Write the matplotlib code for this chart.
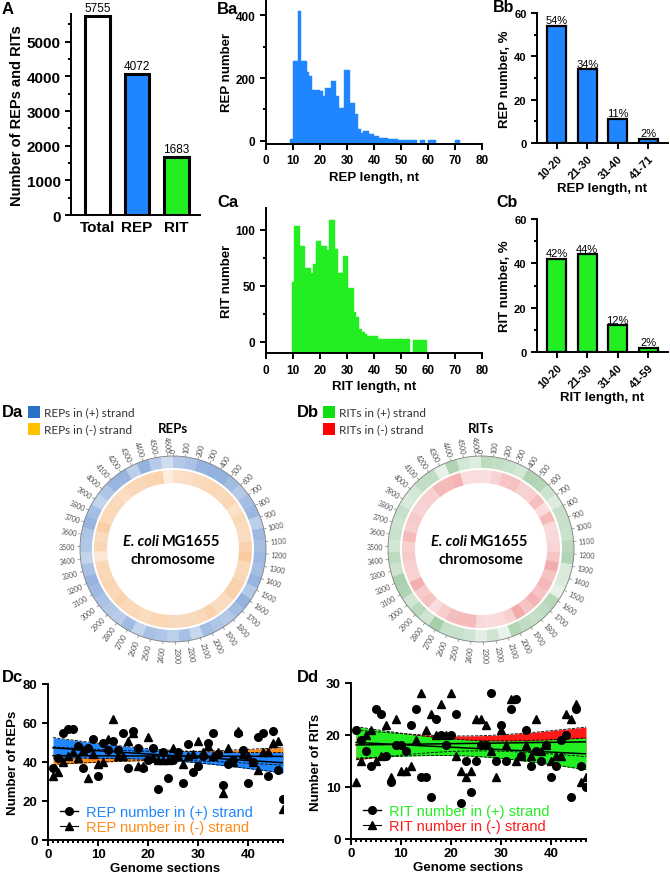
import numpy as np
import matplotlib.pyplot as plt
from matplotlib.patches import Wedge, Circle, Rectangle
from matplotlib.lines import Line2D
from matplotlib.ticker import MultipleLocator

plt.rcParams['font.family'] = ['Liberation Sans', 'DejaVu Sans']
plt.rcParams['font.weight'] = 'bold'
plt.rcParams['axes.labelweight'] = 'bold'

# ---- data ----
# A
total_cats = ['Total', 'REP', 'RIT']
total_vals = [5755, 4072, 1683]

# Ba: REP length histogram (bin left edge = length)
rep_lengths = list(range(9, 72))
rep_counts = [7, 253, 253, 413, 253, 253, 218, 207, 163, 163, 163, 160, 144, 167, 167,
              190, 190, 144, 104, 104, 225, 225, 120, 120, 84, 39, 25, 30, 30, 23, 23,
              15, 15, 10, 9, 8, 7, 6, 5, 5, 4, 4, 4, 3, 3, 3, 2, 0, 3, 3, 0, 3, 3, 3,
              0, 0, 0, 0, 0, 0, 0, 3, 3]

# Ca: RIT length histogram (bin centre = length)
rit_lengths = list(range(10, 60))
rit_counts = [54, 104, 104, 86, 86, 66, 66, 62, 70, 90, 90, 86, 86, 82, 109, 109, 83,
              62, 62, 77, 77, 48, 48, 27, 22, 12, 9, 7, 5, 5, 5, 5, 3, 3, 3, 3, 3, 3,
              3, 3, 3, 3, 3, 3, 0, 2, 2, 2, 2, 2]

# Bb / Cb
rep_groups = ['10-20', '21-30', '31-40', '41-71']
rep_pct = [54, 34, 11, 2]
rit_groups = ['10-20', '21-30', '31-40', '41-59']
rit_pct = [42, 44, 12, 2]

# Dc / Dd: counts per genome section
sections = list(range(1, 48))
rep_plus = [37, 42, 55, 57, 57, 48, 37, 47, 52, 33, 50, 46, 51, 46, 55, 37, 56, 47, 37,
            41, 47, 26, 45, 32, 41, 45, 29, 49, 35, 38, 43, 50, 55, 44, 28, 39, 41, 55,
            46, 29, 40, 53, 55, 33, 56, 36, 21]
rep_minus = [33, 35, 40, 43, 45, 42, 46, 32, 44, 39, 40, 52, 62, 43, 43, 51, 55, 38, 38,
             53, 42, 41, 41, 41, 47, 43, 39, 43, 44, 51, 45, 48, 43, 45, 24, 47, 40, 56,
             44, 43, 40, 36, 45, 45, 50, 51, 16]
rit_plus = [21, 19, 17, 14, 25, 24, 16, 11, 18, 18, 17, 22, 25, 12, 12, 8, 23, 20, 18,
            20, 24, 7, 15, 9, 15, 18, 18, 28, 15, 22, 15, 25, 27, 16, 21, 14, 17, 15,
            18, 12, 14, 19, 20, 8, 25, 14, 10]
rit_minus = [11, 15, 20, 21, 15, 16, 22, 12, 23, 13, 13, 14, 19, 28, 21, 24, 20, 26, 20,
             28, 16, 13, 12, 13, 23, 23, 22, 17, 12, 21, 18, 27, 15, 16, 18, 16, 23, 17,
             18, 15, 16, 16, 24, 23, 26, 11, 12]

genome_kb = 4641

BLUE = '#1f86ff'
GREEN = '#22ee22'
ORANGE = '#ff8c1a'
RED = '#ff1a1a'

W, H = 670, 879
fig = plt.figure(figsize=(W / 100, H / 100), dpi=100)


def add_ax(x0, y0, x1, y1):
    return fig.add_axes([x0 / W, 1 - y1 / H, (x1 - x0) / W, (y1 - y0) / H])


def ftext(x, y, s, **kw):
    return fig.text(x / W, 1 - y / H, s, **kw)


def style(ax, lw=1.4):
    for s in ['top', 'right']:
        ax.spines[s].set_visible(False)
    for s in ['left', 'bottom']:
        ax.spines[s].set_linewidth(lw)
    ax.tick_params(which='major', length=4, width=lw)
    ax.tick_params(which='minor', length=2.5, width=lw)


# ---- A ----
ax = add_ax(71, 15, 200, 216)
style(ax)
bars = ax.bar(range(3), total_vals, width=0.62, color=['white', BLUE, GREEN],
              edgecolor='black', linewidth=2.2)
ax.bar_label(bars, fontsize=8.5, fontweight='normal', padding=1)
ax.set_xlim(-0.675, 2.6)
ax.set_ylim(0, 5800)
ax.set_xticks(range(3), total_cats, fontsize=11)
ax.set_yticks(range(0, 6000, 1000))
ax.yaxis.set_minor_locator(MultipleLocator(500))
ax.tick_params(axis='y', labelsize=11)
ax.tick_params(axis='x', length=0)
ax.set_ylabel('Number of REPs and RITs', fontsize=10.5, labelpad=2)
ftext(2, 9, 'A', fontsize=12, va='center')

# ---- Ba ----
ax = add_ax(266, 0.5, 482, 145)
style(ax)
m = np.array(rep_counts) > 0
ax.bar(np.array(rep_lengths)[m], np.array(rep_counts)[m] + 10, bottom=-10, width=1,
       align='edge', color=BLUE, edgecolor=BLUE, linewidth=0.3)
ax.set_xlim(0, 80)
ax.set_ylim(-10, 450)
ax.set_xticks(range(0, 81, 10))
ax.set_yticks([0, 200, 400])
ax.yaxis.set_minor_locator(MultipleLocator(100))
ax.tick_params(labelsize=8.5)
ax.set_ylabel('REP number', fontsize=9.5, labelpad=2)
ax.set_xlabel('REP length, nt', fontsize=9.5, labelpad=3)
ftext(217, 9, 'Ba', fontsize=12, va='center')

# ---- Ca ----
ax = add_ax(266, 208.6, 482, 354.2)
style(ax)
m = np.array(rit_counts) > 0
ax.bar(np.array(rit_lengths)[m], np.array(rit_counts)[m] + 10, bottom=-10, width=1,
       color=GREEN, edgecolor=GREEN, linewidth=0.3)
ax.set_xlim(0, 80)
ax.set_ylim(-10, 120)
ax.set_xticks(range(0, 81, 10))
ax.set_yticks([0, 50, 100])
ax.yaxis.set_minor_locator(MultipleLocator(25))
ax.tick_params(labelsize=8.5)
ax.set_ylabel('RIT number', fontsize=9.5, labelpad=2)
ax.set_xlabel('RIT length, nt', fontsize=9.5, labelpad=3)
ftext(217, 203, 'Ca', fontsize=12, va='center')


# ---- Bb / Cb ----
def pct_panel(box, groups, pct, color, xlabel, letter, lpos):
    ax = add_ax(*box)
    style(ax)
    b = ax.bar(range(len(groups)), pct, width=0.62, color=color,
               edgecolor='black', linewidth=1.6)
    ax.bar_label(b, labels=[f'{v}%' for v in pct], fontsize=8, fontweight='normal',
                 padding=0.5)
    ax.set_xlim(-0.65, 3.65)
    ax.set_ylim(0, 60)
    ax.set_yticks([0, 20, 40, 60])
    ax.yaxis.set_minor_locator(MultipleLocator(10))
    ax.set_xticks(range(len(groups)))
    ax.set_xticklabels(groups, rotation=45, ha='right', rotation_mode='anchor')
    ax.tick_params(labelsize=8)
    ax.set_ylabel(xlabel.replace('length, nt', 'number, %'), fontsize=9.5, labelpad=2)
    ax.set_xlabel(xlabel, fontsize=9.5, labelpad=1)
    ftext(*lpos, letter, fontsize=11.5, va='center', ha='right')


pct_panel((537, 14, 668, 144), rep_groups, rep_pct, BLUE, 'REP length, nt', 'Bb',
          (514, 8))
pct_panel((537, 220, 668, 353), rit_groups, rit_pct, GREEN, 'RIT length, nt', 'Cb',
          (518, 203))


# ---- Da / Db circles ----
def genome_circle(cx, cy, plus, minus, c_plus, c_minus, a_lo, a_hi):
    R = 128
    ax = add_ax(cx - R, cy - R, cx + R, cy + R)
    ax.set_xlim(-R, R)
    ax.set_ylim(-R, R)
    ax.set_aspect('equal')
    ax.axis('off')
    step = 360 / len(plus)
    vals = np.array(plus + minus, float)
    lo, hi = vals.min(), vals.max()
    for i, (p, q) in enumerate(zip(plus, minus)):
        t2 = 90 - i * step
        t1 = t2 - step
        ap = a_lo + (a_hi - a_lo) * (p - lo) / (hi - lo)
        am = a_lo + (a_hi - a_lo) * (q - lo) / (hi - lo)
        ax.add_patch(Wedge((0, 0), 93, t1, t2, width=12, facecolor=c_plus, alpha=ap, lw=0))
        ax.add_patch(Wedge((0, 0), 79, t1, t2, width=13, facecolor=c_minus, alpha=am, lw=0))
    ax.add_patch(Circle((0, 0), 93, fill=False, ec='#808080', lw=0.6))
    for kb in range(0, genome_kb, 100):
        ang = kb / genome_kb * 360
        th = np.deg2rad(90 - ang)
        c, s = np.cos(th), np.sin(th)
        ax.plot([93 * c, 95.5 * c], [93 * s, 95.5 * s], color='#808080', lw=0.5)
        if ang <= 180:
            rot, ha = 90 - ang, 'left'
        else:
            rot, ha = 270 - ang, 'right'
        ax.text(97.5 * c, 97.5 * s, str(kb), rotation=rot, rotation_mode='anchor',
                ha=ha, va='center', fontsize=5, color='#505050', fontweight='normal',
                family=['Lato', 'DejaVu Sans'])
    return ax


genome_circle(173, 550, rep_plus, rep_minus, '#3d74c4', '#f5a860', 0.2, 0.6)
genome_circle(481, 550, rit_plus, rit_minus, '#4f9f55', '#e85a5a', 0.12, 0.5)

lato = ['Lato', 'DejaVu Sans']
for cx, name in [(173, 'REPs'), (481, 'RITs')]:
    ftext(cx, 429, name, fontsize=9.5, ha='center', va='center', family=lato)
    ftext(cx - 14, 542, 'E. coli', fontsize=10.5, ha='right', va='center', family=lato,
          style='italic')
    ftext(cx - 11, 542, 'MG1655', fontsize=10.5, ha='left', va='center', family=lato)
    ftext(cx, 560, 'chromosome', fontsize=10.5, ha='center', va='center', family=lato)

legend_rows = [(2, 'Da', [('#2a72c7', 'REPs in (+) strand'), ('#ffc000', 'REPs in (-) strand')]),
               (297, 'Db', [('#10e010', 'RITs in (+) strand'), ('#ff0000', 'RITs in (-) strand')])]
for x0, letter, items in legend_rows:
    ftext(x0, 413, letter, fontsize=12, va='center')
    for k, (col, lab) in enumerate(items):
        yc = 413 + 17 * k
        fig.add_artist(Rectangle(((x0 + 26) / W, 1 - (yc + 6) / H), 12 / W, 12 / H,
                                 transform=fig.transFigure, facecolor=col, lw=0))
        ftext(x0 + 42, yc, lab, fontsize=8.5, va='center', fontweight='normal',
              family=lato, color='#303030')


# ---- Dc / Dd ----
def fit_band(ax, x, y, color):
    x = np.asarray(x, float)
    y = np.asarray(y, float)
    b, a = np.polyfit(x, y, 1)
    n = len(x)
    s = np.sqrt(((y - (a + b * x)) ** 2).sum() / (n - 2))
    sxx = ((x - x.mean()) ** 2).sum()
    xs = np.linspace(x.min(), x.max(), 100)
    yh = a + b * xs
    half = 2.014 * s * np.sqrt(1 / n + (xs - x.mean()) ** 2 / sxx)
    ax.fill_between(xs, yh - half, yh + half, color=color, lw=0, zorder=1)
    return xs, yh, half


def trend_panel(box, plus, minus, c_plus, c_minus, ymax, ystep, ylabel, what,
                letter, lpos):
    ax = add_ax(*box)
    style(ax)
    bands = [fit_band(ax, sections, minus, c_minus), fit_band(ax, sections, plus, c_plus)]
    for xs, yh, half in bands:
        ax.plot(xs, yh - half, 'k--', lw=0.6, zorder=2)
        ax.plot(xs, yh + half, 'k--', lw=0.6, zorder=2)
        ax.plot(xs, yh, 'k-', lw=1.1, zorder=3)
    ax.plot(sections, plus, 'o', color='black', ms=5.5, zorder=4)
    ax.plot(sections, minus, '^', color='black', ms=5.5, zorder=4)
    ax.set_xlim(0, 47)
    ax.set_ylim(0, ymax)
    ax.set_xticks(range(0, 41, 10))
    ax.xaxis.set_minor_locator(MultipleLocator(1))
    ax.set_yticks(range(0, ymax + 1, ystep))
    ax.tick_params(labelsize=9.5)
    ax.tick_params(axis='x', pad=2)
    ax.set_ylabel(ylabel, fontsize=9.5, labelpad=3)
    ax.set_xlabel('Genome sections', fontsize=9.5, labelpad=1)
    handles = [Line2D([], [], color='k', lw=1, marker='o', ms=5.5),
               Line2D([], [], color='k', lw=0.8, marker='^', ms=5.5)]
    ax.legend(handles, [f'{what} number in (+) strand', f'{what} number in (-) strand'],
              loc='lower left', bbox_to_anchor=(0.026, 0.0), borderaxespad=0,
              frameon=False, labelcolor=[c_plus, c_minus], handlelength=1.25,
              handletextpad=0.55, labelspacing=0.05,
              prop={'size': 10.5, 'weight': 'normal'})
    ftext(*lpos, letter, fontsize=12, va='center')


trend_panel((48, 685, 283, 841), rep_plus, rep_minus, BLUE, ORANGE, 80, 20,
            'Number of REPs', 'REP', 'Dc', (2, 678))
trend_panel((351, 684, 586, 840), rit_plus, rit_minus, GREEN, RED, 30, 10,
            'Number of RITs', 'RIT', 'Dd', (297, 678))

fig.savefig('out.png', dpi=100)
